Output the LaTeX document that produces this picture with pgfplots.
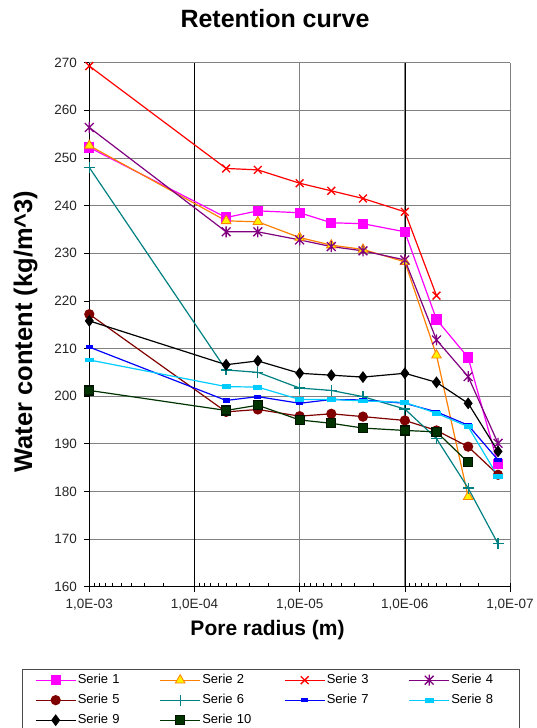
\documentclass[border=0pt]{standalone}
\usepackage{fontspec}
\setmainfont{Liberation Sans}
\usepackage{pgfplots}
\pgfplotsset{compat=1.18}

\definecolor{s1}{RGB}{255,0,255}
\definecolor{s2}{RGB}{255,128,0}
\definecolor{s3}{RGB}{255,0,0}
\definecolor{s4}{RGB}{128,0,128}
\definecolor{s5}{RGB}{128,0,0}
\definecolor{s6}{RGB}{0,128,128}
\definecolor{s7}{RGB}{0,0,255}
\definecolor{s8}{RGB}{0,204,255}
\definecolor{s10}{RGB}{0,51,0}
\definecolor{gridgray}{RGB}{128,128,128}

% Excel-style star: an x with a vertical bar
\pgfdeclareplotmark{xstar}{%
  \pgfpathmoveto{\pgfpoint{-0.8\pgfplotmarksize}{-0.8\pgfplotmarksize}}%
  \pgfpathlineto{\pgfpoint{0.8\pgfplotmarksize}{0.8\pgfplotmarksize}}%
  \pgfpathmoveto{\pgfpoint{-0.8\pgfplotmarksize}{0.8\pgfplotmarksize}}%
  \pgfpathlineto{\pgfpoint{0.8\pgfplotmarksize}{-0.8\pgfplotmarksize}}%
  \pgfpathmoveto{\pgfpoint{0pt}{-\pgfplotmarksize}}%
  \pgfpathlineto{\pgfpoint{0pt}{\pgfplotmarksize}}%
  \pgfusepathqstroke}

\begin{document}
\begin{tikzpicture}
\begin{axis}[name=ax, scale only axis, width=420.7pt, height=524pt,
  xmode=log, x dir=reverse, xmin=1e-7, xmax=1e-3,
  ymin=160, ymax=270, ytick distance=10,
  axis x line*=bottom, axis y line*=left,
  axis line style={-, black, line width=0.8pt},
  xmajorgrids, ymajorgrids,
  major grid style={gridgray, line width=0.9pt},
  extra x ticks={1e-4,1e-6}, extra x tick labels={},
  extra x tick style={major grid style={black, line width=0.5pt}, major tick length=0pt},
  tick align=outside, major tick length=5pt, minor tick length=-4pt,
  tick style={black, line width=0.6pt},
  xticklabel={\pgfmathparse{int(round(-\tick/2.302585))}1,0E-0\pgfmathresult},
  /pgf/number format/assume math mode=true,
  tick label style={font=\fontsize{13.5}{15}\selectfont, black!85},
  xticklabel style={yshift=-4pt},
  yticklabel style={xshift=-4pt},
  clip=false,
  title={Retention curve},
  title style={at={(axis description cs:0.4414,1.0553)}, anchor=base,
    font=\bfseries\fontsize{25}{28}\selectfont},
  xlabel={Pore radius (m)},
  xlabel style={at={(axis description cs:0.4236,-0.0922)}, anchor=base,
    font=\bfseries\fontsize{21}{24}\selectfont},
  ylabel={Water content (kg/m\^{}3)},
  ylabel style={at={(axis description cs:-0.1362,0.487)}, anchor=base, rotate=0,
    font=\bfseries\fontsize{25.5}{28}\selectfont},
  legend columns=4,
  legend cell align=left,
  legend style={at={(axis description cs:-0.1607,-0.1576)}, anchor=north west,
    draw=black!70, line width=0.8pt, fill=white, inner xsep=13pt, inner ysep=0.5pt,
    font=\fontsize{13}{15}\selectfont,
    nodes={text width=54pt, text height=9.5pt, text depth=3pt,
      inner xsep=1.5pt, inner ysep=3.75pt, align=left},
    /tikz/every even column/.append style={column sep=26.3pt}},
  legend image code/.code={\draw[mark repeat=2,mark phase=2,#1]
    plot coordinates {(0pt,0pt) (20pt,0pt) (40pt,0pt)};},
  every axis plot/.append style={line width=1.2pt},
]
\addplot[s1, mark=square*, mark size=4.5pt, mark options={fill=s1, draw=s1}] coordinates {
 (1e-3,252.2) (5e-5,237.5) (2.5e-5,238.9) (1e-5,238.5) (5e-6,236.4)
 (2.5e-6,236.2) (1e-6,234.5) (5e-7,216.1) (2.5e-7,208.1) (1.3e-7,185.7)};
\addlegendentry{Serie 1}
\addplot[s2, mark=triangle*, mark size=5.5pt, mark options={fill=yellow, draw=s2, line width=0.8pt}] coordinates {
 (1e-3,252.6) (5e-5,236.8) (2.5e-5,236.6) (1e-5,233.3) (5e-6,231.7)
 (2.5e-6,230.8) (1e-6,228.2) (5e-7,208.6) (2.5e-7,178.9)};
\addlegendentry{Serie 2}
\addplot[s3, mark=x, mark size=5.5pt, mark options={line width=1.3pt}] coordinates {
 (1e-3,269.3) (5e-5,247.8) (2.5e-5,247.5) (1e-5,244.7) (5e-6,243.1)
 (2.5e-6,241.5) (1e-6,238.7) (5e-7,221.1)};
\addlegendentry{Serie 3}
\addplot[s4, mark=xstar, mark size=5.5pt, mark options={line width=1.3pt}] coordinates {
 (1e-3,256.4) (5e-5,234.5) (2.5e-5,234.5) (1e-5,232.8) (5e-6,231.4)
 (2.5e-6,230.5) (1e-6,228.6) (5e-7,211.8) (2.5e-7,204.1) (1.3e-7,190.1)};
\addlegendentry{Serie 4}
\addplot[s5, mark=*, mark size=4.5pt, mark options={fill=s5, draw=s5}] coordinates {
 (1e-3,217.2) (5e-5,196.7) (2.5e-5,197.2) (1e-5,195.8) (5e-6,196.3)
 (2.5e-6,195.7) (1e-6,194.9) (5e-7,192.8) (2.5e-7,189.4) (1.3e-7,183.5)};
\addlegendentry{Serie 5}
\addplot[s6, mark=+, mark size=5.5pt, mark options={line width=1.3pt}] coordinates {
 (1e-3,248.0) (5e-5,205.5) (2.5e-5,205.0) (1e-5,201.7) (5e-6,201.2)
 (2.5e-6,199.9) (1e-6,197.3) (5e-7,191.1) (2.5e-7,180.7) (1.3e-7,169.0)};
\addlegendentry{Serie 6}
\addplot[s7, mark=square*, mark size=3pt, mark options={fill=s7, draw=s7, yscale=0.5}] coordinates {
 (1e-3,210.3) (5e-5,199.1) (2.5e-5,199.9) (1e-5,198.5) (5e-6,199.3)
 (2.5e-6,199.2) (1e-6,198.5) (5e-7,196.7) (2.5e-7,193.9) (1.3e-7,186.6)};
\addlegendentry{Serie 7}
\addplot[s8, mark=square*, mark size=4pt, mark options={fill=s8, draw=s8, yscale=0.45}] coordinates {
 (1e-3,207.6) (5e-5,202.0) (2.5e-5,201.9) (1e-5,199.3) (5e-6,199.3)
 (2.5e-6,199.0) (1e-6,198.7) (5e-7,196.4) (2.5e-7,193.6) (1.3e-7,183.1)};
\addlegendentry{Serie 8}
\addplot[black, mark=diamond*, mark size=5pt, mark options={fill=black, draw=black}] coordinates {
 (1e-3,215.8) (5e-5,206.6) (2.5e-5,207.4) (1e-5,204.8) (5e-6,204.4)
 (2.5e-6,204.0) (1e-6,204.8) (5e-7,202.9) (2.5e-7,198.5) (1.3e-7,188.4)};
\addlegendentry{Serie 9}
\addplot[s10, mark=square*, mark size=4.5pt, mark options={fill=s10, draw=black!60!s10}] coordinates {
 (1e-3,201.2) (5e-5,197.0) (2.5e-5,198.1) (1e-5,195.0) (5e-6,194.3)
 (2.5e-6,193.3) (1e-6,192.8) (5e-7,192.5) (2.5e-7,186.1)};
\addlegendentry{Serie 10}
\end{axis}
\pgfresetboundingbox
\useasboundingbox ([xshift=-89.3pt,yshift=-141.3pt]ax.south west)
  rectangle ([xshift=447.7pt,yshift=586.7pt]ax.south west);
\end{tikzpicture}
\end{document}
